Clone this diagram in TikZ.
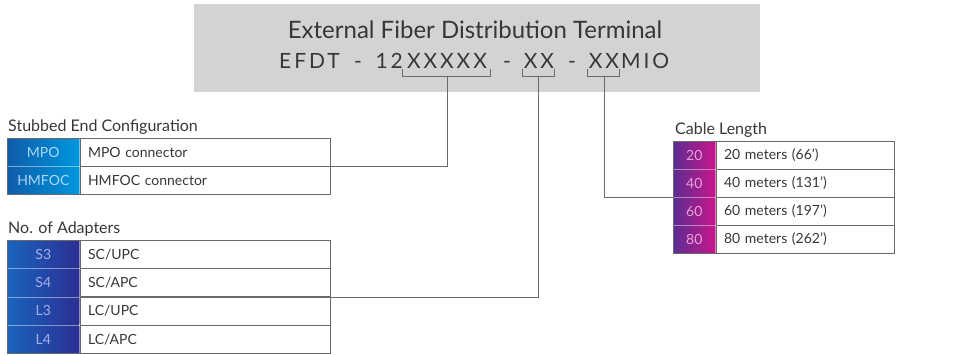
\documentclass[tikz,border=0pt]{standalone}
\usepackage{fontspec}
\setmainfont{Lato}
\newfontfamily\codefont[LetterSpace=14]{Lato}
\definecolor{boxgray}{RGB}{210,211,213}
\definecolor{txt}{RGB}{55,55,55}
\definecolor{linegray}{RGB}{105,105,105}
\definecolor{sbL}{RGB}{14,92,170}
\definecolor{sbR}{RGB}{0,152,222}
\definecolor{sbT}{RGB}{170,215,245}
\definecolor{adL}{RGB}{25,100,190}
\definecolor{adR}{RGB}{44,46,146}
\definecolor{adT}{RGB}{165,175,232}
\definecolor{clL}{RGB}{92,45,145}
\definecolor{clR}{RGB}{200,22,140}
\definecolor{clT}{RGB}{232,160,215}
\begin{document}
\begin{tikzpicture}[x=1pt,y=-1pt,
  rowfont/.style={font=\fontsize{14}{16}\selectfont},
  codecell/.style={rowfont, minimum height=28pt, inner sep=0pt, anchor=north west,
    draw=white, draw opacity=0.45, line width=0.6pt},
  desccell/.style={rowfont, text=txt, draw=linegray, line width=0.9pt, minimum height=28pt,
    inner ysep=0pt, inner xsep=8pt, anchor=north west, align=left},
  border/.style={draw=linegray, line width=1pt},
  conn/.style={draw=linegray, line width=1pt},
  bracket/.style={draw=linegray, line width=0.9pt},
  sectitle/.style={font=\fontsize{16}{19}\selectfont, text=txt, anchor=base west, inner sep=0pt},
  codeline/.style={font=\codefont\fontsize{21}{24}\selectfont, text=txt, inner sep=0pt},
  sbcode/.style={codecell, minimum width=72pt, left color=sbL, right color=sbR, text=sbT},
  adcode/.style={codecell, minimum width=72pt, left color=adL, right color=adR, text=adT},
  clcode/.style={codecell, minimum width=42pt, left color=clL, right color=clR, text=clT},
  sbdesc/.style={desccell, text width=234pt},
  cldesc/.style={desccell, text width=162pt}
]
\useasboundingbox (0,0) rectangle (954,354);
% header
\node[fill=boxgray, minimum width=566pt, minimum height=88pt, inner sep=0pt, anchor=north west] (hdr) at (194,4) {};
\node[font=\fontsize{24}{28}\selectfont, text=txt, anchor=base, inner sep=0pt] (t1) at (475,38) {External Fiber Distribution Terminal};
\node[codeline, anchor=base west] (c0) at (279,68) {EFDT};
\node[codeline, anchor=base] (d0) at (358,68) {-};
\node[codeline, anchor=base east] (c1) at (403,68) {12};
\node[codeline, anchor=base] (g1) at (447,68) {XXXXX};
\node[codeline, anchor=base] (d1) at (507,68) {-};
\node[codeline, anchor=base] (g2) at (539,68) {XX};
\node[codeline, anchor=base] (d2) at (572,68) {-};
\node[codeline, anchor=base] (g3) at (604,68) {XX};
\node[codeline, anchor=base west] (c4) at (621,68) {MIO};
% brackets
\draw[bracket] (402,69) -- (402,76) -- (490,76) -- (490,69);
\draw[bracket] (522,69) -- (522,76) -- (554,76) -- (554,69);
\draw[bracket] (587,69) -- (587,76) -- (619,76) -- (619,69);
\coordinate (b1) at (447,76);
\coordinate (b2) at (538,76);
\coordinate (b3) at (604,76);
% Stubbed end configuration
\node[sectitle] (st) at (8,131) {Stubbed End Configuration};
\node[sbcode] (s1c) at (7,138) {MPO};
\node[sbdesc] (s1d) at (s1c.north east) {MPO connector};
\node[sbcode] (s2c) at (7,166) {HMFOC};
\node[sbdesc] (s2d) at (s2c.north east) {HMFOC connector};
\draw[border] (s1c.north west) rectangle (s2d.south east);
% No. of adapters
\node[sectitle] (at) at (8,233) {No. of Adapters};
\node[adcode] (a1c) at (7,240) {S3};
\node[sbdesc] (a1d) at (a1c.north east) {SC/UPC};
\node[adcode] (a2c) at (7,268.3) {S4};
\node[sbdesc] (a2d) at (a2c.north east) {SC/APC};
\node[adcode] (a3c) at (7,296.6) {L3};
\node[sbdesc] (a3d) at (a3c.north east) {LC/UPC};
\node[adcode] (a4c) at (7,324.9) {L4};
\node[sbdesc] (a4d) at (a4c.north east) {LC/APC};
\draw[border] (a1c.north west) rectangle (a4d.south east);
% Cable length
\node[sectitle] (ct) at (675,134) {Cable Length};
\node[clcode] (l1c) at (673,141) {20};
\node[cldesc] (l1d) at (l1c.north east) {20 meters (66')};
\node[clcode] (l2c) at (673,169) {40};
\node[cldesc] (l2d) at (l2c.north east) {40 meters (131')};
\node[clcode] (l3c) at (673,197) {60};
\node[cldesc] (l3d) at (l3c.north east) {60 meters (197')};
\node[clcode] (l4c) at (673,225) {80};
\node[cldesc] (l4d) at (l4c.north east) {80 meters (262')};
\draw[border] (l1c.north west) rectangle (l4d.south east);
% connectors
\draw[conn] (b1) |- (s1d.south east);
\draw[conn] (b2) |- (a2d.south east);
\draw[conn] (b3) |- (l2c.south west);
\end{tikzpicture}
\end{document}
